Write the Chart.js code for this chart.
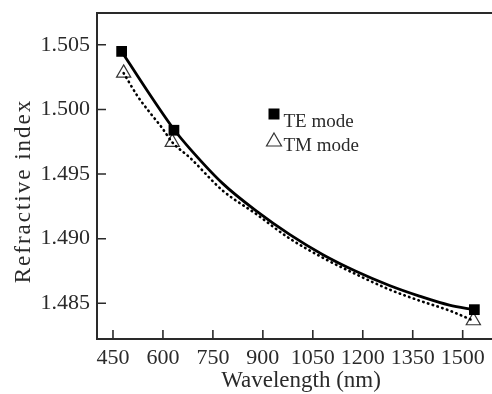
<!DOCTYPE html>
<html>
<head>
<meta charset="utf-8">
<script src="https://cdn.jsdelivr.net/npm/chart.js@4.4.0/dist/chart.umd.min.js"></script>
<style>
  html, body { margin: 0; padding: 0; background: #fff; }
  #contenedor { width: 492px; height: 394px; }
</style>
</head>
<body>
<div id="contenedor"><canvas id="grafica"></canvas></div>
<script>
// Puntos medidos (marcadores)
const ondaTE = [476, 633, 1535];
const indiceTE = [1.50449, 1.49839, 1.48451];
const ondaTM = [482, 628, 1532];
const indiceTM = [1.50281, 1.49746, 1.48366];

// Curvas ajustadas
const ondaCurvaTE = [476, 554, 635, 680, 779, 882, 980, 1079, 1181, 1280, 1370, 1460, 1535];
const curvaTE = [1.50449, 1.50141, 1.49839, 1.49699, 1.49428, 1.49211, 1.49033, 1.48878, 1.48746, 1.48638, 1.48556, 1.48486, 1.48451];
const ondaCurvaTM = [482, 524, 560, 596, 628, 680, 779, 882, 980, 1079, 1181, 1280, 1370, 1460, 1532];
const curvaTM = [1.50281, 1.50102, 1.49978, 1.49862, 1.49746, 1.49629, 1.49373, 1.49187, 1.49002, 1.48854, 1.48723, 1.48607, 1.48521, 1.48444, 1.48366];

// Ejes
const ticksX = [450, 600, 750, 900, 1050, 1200, 1350, 1500];
const ticksY = [1.485, 1.490, 1.495, 1.500, 1.505];
const etiquetas = ["TE mode", "TM mode"];
const tituloX = "Wavelength (nm)";
const tituloY = "Refractive index";

const fuente = '"Liberation Serif", "Times New Roman", serif';
const tinta = "#2a2a2a";

function puntos(xs, ys) {
  return xs.map((x, i) => ({ x, y: ys[i] }));
}

// Quitar el relleno automático que Chart.js deja para las etiquetas
function sinRelleno(s) {
  s.paddingTop = 0;
  s.paddingBottom = 0;
  s.paddingLeft = 0;
  s.paddingRight = 0;
}

// Marcas hacia dentro, borde superior, títulos y leyenda
const extras = {
  id: "extras",
  afterDraw(chart) {
    const ctx = chart.ctx;
    const area = chart.chartArea;
    const sx = chart.scales.x;
    const sy = chart.scales.y;
    ctx.save();
    ctx.strokeStyle = tinta;
    ctx.lineWidth = 1.6;
    ctx.beginPath();
    sx.ticks.forEach((t) => {
      const px = sx.getPixelForValue(t.value);
      ctx.moveTo(px, area.bottom);
      ctx.lineTo(px, area.bottom - 9);
    });
    sy.ticks.forEach((t) => {
      const py = sy.getPixelForValue(t.value);
      ctx.moveTo(area.left, py);
      ctx.lineTo(area.left + 9, py);
    });
    ctx.stroke();

    // borde superior
    ctx.lineWidth = 2;
    ctx.beginPath();
    ctx.moveTo(area.left - 1, area.top);
    ctx.lineTo(area.right, area.top);
    ctx.stroke();

    // títulos de los ejes
    ctx.fillStyle = tinta;
    ctx.font = "23px " + fuente;
    ctx.textAlign = "center";
    ctx.textBaseline = "middle";
    ctx.fillText(tituloX, area.left + 204, area.bottom + 42);
    ctx.save();
    ctx.letterSpacing = "2px";
    ctx.translate(24, area.top + 178);
    ctx.rotate(-Math.PI / 2);
    ctx.fillText(tituloY, 0, 0);
    ctx.restore();

    // leyenda
    const lx = area.left + 177;
    const ly = area.top + 101;
    ctx.fillStyle = "#000";
    ctx.fillRect(lx - 5.5, ly - 5.5, 11, 11);
    ctx.strokeStyle = "#333";
    ctx.lineWidth = 1.2;
    ctx.beginPath();
    ctx.moveTo(lx, ly + 19);
    ctx.lineTo(lx + 7.5, ly + 32);
    ctx.lineTo(lx - 7.5, ly + 32);
    ctx.closePath();
    ctx.stroke();
    ctx.fillStyle = tinta;
    ctx.font = "19px " + fuente;
    ctx.textAlign = "left";
    ctx.textBaseline = "alphabetic";
    ctx.fillText(etiquetas[0], lx + 9.5, ly + 13);
    ctx.fillText(etiquetas[1], lx + 9.5, ly + 37);
    ctx.restore();
  },
};

new Chart(document.getElementById("grafica"), {
  type: "scatter",
  data: {
    datasets: [
      {
        label: "TE fit",
        data: puntos(ondaCurvaTE, curvaTE),
        showLine: true,
        borderColor: "#000",
        borderWidth: 2.8,
        pointRadius: 0,
        cubicInterpolationMode: "monotone",
      },
      {
        label: "TM fit",
        data: puntos(ondaCurvaTM, curvaTM),
        showLine: true,
        borderColor: "#000",
        borderWidth: 2.6,
        borderDash: [0.5, 4.5],
        borderCapStyle: "round",
        pointRadius: 0,
        cubicInterpolationMode: "monotone",
      },
      {
        label: etiquetas[0],
        data: puntos(ondaTE, indiceTE),
        showLine: false,
        pointStyle: "rect",
        pointRadius: 7.6,
        backgroundColor: "#000",
        borderColor: "#000",
        borderWidth: 0,
      },
      {
        label: etiquetas[1],
        data: puntos(ondaTM, indiceTM),
        showLine: false,
        pointStyle: "triangle",
        pointRadius: 8.2,
        backgroundColor: "rgba(0,0,0,0)",
        borderColor: "#333",
        borderWidth: 1.2,
      },
    ],
  },
  options: {
    responsive: true,
    maintainAspectRatio: false,
    animation: false,
    layout: { autoPadding: false, padding: { top: 13, right: 0, left: 0, bottom: 0 } },
    plugins: {
      legend: { display: false },
      tooltip: { enabled: false },
    },
    scales: {
      x: {
        type: "linear",
        min: 402,
        max: 1588,
        afterBuildTicks: (s) => { s.ticks = ticksX.map((v) => ({ value: v })); },
        afterFit: (s) => { s.height = 55; sinRelleno(s); },
        grid: { display: true, drawOnChartArea: false, drawTicks: false },
        border: { display: true, color: tinta, width: 2 },
        ticks: {
          autoSkip: false,
          maxRotation: 0,
          padding: 6,
          color: tinta,
          font: { family: fuente, size: 22 },
          callback: (v) => String(v),
        },
        title: { display: false, text: tituloX },
      },
      y: {
        type: "linear",
        min: 1.48224,
        max: 1.50746,
        afterBuildTicks: (s) => { s.ticks = ticksY.map((v) => ({ value: v })); },
        afterFit: (s) => { s.width = 97; sinRelleno(s); },
        grid: { display: true, drawOnChartArea: false, drawTicks: false },
        border: { display: true, color: tinta, width: 2 },
        ticks: {
          autoSkip: false,
          padding: 7,
          color: tinta,
          font: { family: fuente, size: 22 },
          callback: (v) => v.toFixed(3),
        },
        title: { display: false, text: tituloY },
      },
    },
  },
  plugins: [extras],
});
</script>
</body>
</html>
